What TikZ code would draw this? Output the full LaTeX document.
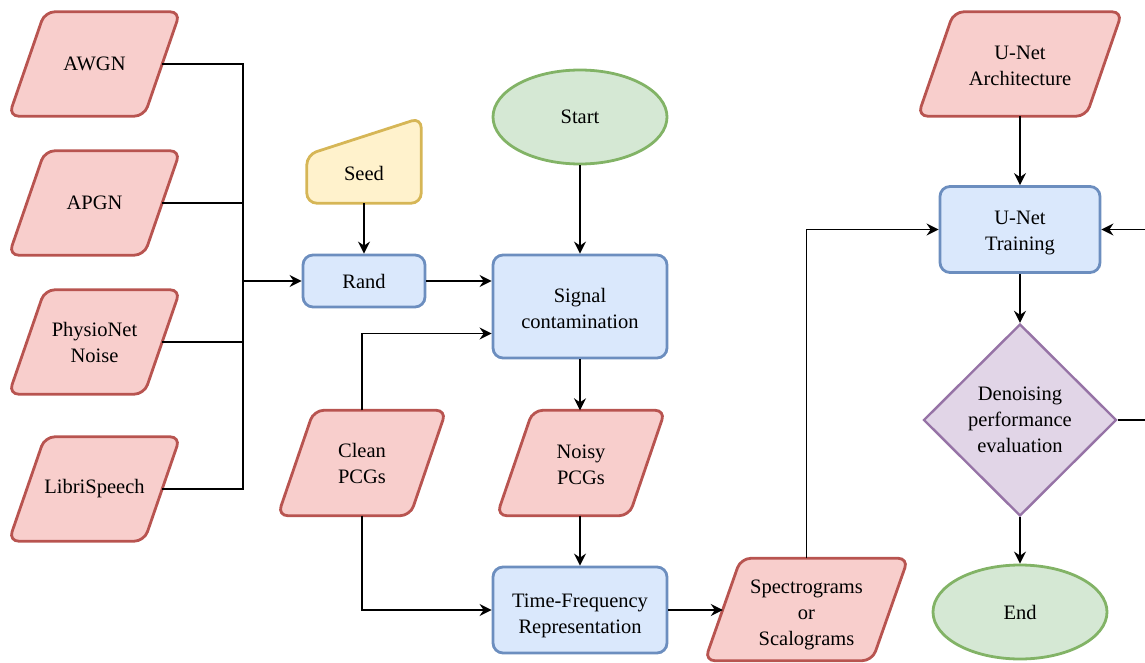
\documentclass[tikz,border=0pt]{standalone}
\usepackage{fontspec}
\setmainfont{Liberation Serif}
\newfontfamily\tnr{Liberation Serif}
\usetikzlibrary{shapes.geometric,arrows.meta,backgrounds}
\definecolor{redF}{HTML}{F8CECC}\definecolor{redS}{HTML}{B85450}
\definecolor{blueF}{HTML}{DAE8FC}\definecolor{blueS}{HTML}{6C8EBF}
\definecolor{greenF}{HTML}{D5E8D4}\definecolor{greenS}{HTML}{82B366}
\definecolor{yelF}{HTML}{FFF2CC}\definecolor{yelS}{HTML}{D6B656}
\definecolor{purF}{HTML}{E1D5E7}\definecolor{purS}{HTML}{9673A6}
\newcommand\liftup[1]{\rule{0pt}{#1}}
\begin{document}
\begin{tikzpicture}[x=1pt,y=-1pt,
  base/.style={font=\tnr\fontsize{20.5}{26}\selectfont, align=center, inner sep=0pt, text=black},
  para/.style={base, minimum height=104pt},
  parashape/.style={draw=redS, fill=redF, line width=2.8pt, rounded corners=10pt},
  proc/.style={base, draw=blueS, fill=blueF, line width=2.8pt, rounded corners=10pt},
  term/.style={base, ellipse, draw=greenS, fill=greenF, line width=2.8pt, minimum width=174pt, minimum height=94pt},
  decision/.style={base, diamond, draw=purS, fill=purF, line width=2.4pt, minimum width=193pt, minimum height=192pt},
  line/.style={line width=1.7pt, draw=black},
  arrow/.style={line, -{Stealth[length=12pt,width=12pt,inset=4pt]}},
]
\useasboundingbox (0,0) rectangle (1145,663);

% input parallelograms (text nodes; outlines drawn on background)
\node[para, minimum width=135pt] (awgn)   at (94.5,64)  {AWGN};
\node[para, minimum width=135pt] (apgn)   at (94.5,203) {APGN};
\node[para, minimum width=135pt] (physio) at (94.5,342) {\liftup{16pt}PhysioNet\\Noise};
\node[para, minimum width=135pt] (libri)  at (94.5,489) {LibriSpeech};
\node[para, minimum width=132pt, minimum height=105pt] (clean) at (362,463) {\liftup{16pt}Clean\\PCGs};
\node[para, minimum width=132pt, minimum height=105pt] (noisy) at (581,463) {\liftup{18pt}Noisy\\PCGs};
\node[para, minimum width=167pt, minimum height=102pt] (spec)  at (806.5,609.5) {\liftup{24pt}Spectrograms\\or\\Scalograms};
\node[para, minimum width=168pt] (arch)  at (1020,64) {\liftup{18pt}U-Net\\Architecture};

% seed (manual input)
\node[base, minimum width=114pt, minimum height=60pt] (seed) at (364,173) {Seed};

% processes
\node[proc, minimum width=122pt, minimum height=52pt] (rand) at (364,281) {Rand};
\node[proc, minimum width=174pt, minimum height=103pt] (signal) at (580,306.5) {\liftup{18pt}Signal\\contamination};
\node[proc, minimum width=174pt, minimum height=86pt] (tfr) at (580,610) {\liftup{25pt}Time-Frequency\\Representation};
\node[proc, minimum width=160pt, minimum height=86pt] (train) at (1020,229.5) {\liftup{21pt}U-Net\\Training};

% terminals
\node[term] (start) at (580,117) {Start};
\node[term] (end) at (1020,612) {End};

% decision
\node[decision] (eval) at (1020,420) {Denoising\\performance\\evaluation};

\begin{scope}[on background layer]
  \foreach \n in {awgn,apgn,physio,libri,clean,noisy,spec,arch}
    \draw[parashape] ([xshift=-18pt]\n.south west) -- ([xshift=-18pt]\n.south east)
      -- ([xshift=18pt]\n.north east) -- ([xshift=18pt]\n.north west) -- cycle;
  \draw[draw=yelS, fill=yelF, line width=2.8pt, rounded corners=10pt]
    (seed.south west) -- (seed.south east) -- ([yshift=25pt]seed.north east)
    -- ([yshift=-12pt]seed.north west) -- cycle;
\end{scope}

% connectors
\coordinate (bus) at (243,281);
\draw[line] (awgn.east) -| (bus);
\draw[line] (apgn.east) -| (bus);
\draw[line] (physio.east) -| (bus);
\draw[line] (libri.east) -| (bus);
\draw[arrow] (bus) -- (rand.west);
\draw[arrow] (seed.south) -- (rand.north);
\draw[arrow] (rand.east) -- (rand.east -| signal.west);
\draw[arrow] (start.south) -- (signal.north);
\draw[arrow] (signal.south) -- (noisy.north -| signal.south);
\draw[arrow] (noisy.south -| tfr.north) -- (tfr.north);
\draw[arrow] (clean.north) |- ([yshift=-27pt]signal.west);
\draw[arrow] (clean.south) |- (tfr.west);
\draw[arrow] (tfr.east) -- (tfr.east -| spec.west);
\draw[arrow] (spec.north) |- (train.west);
\draw[arrow] (arch.south) -- (train.north);
\draw[arrow] (train.south) -- (eval.north);
\draw[arrow] (eval.south) -- (end.north);
\coordinate (loop) at (1175,420);
\draw[arrow] (eval.east) -- (loop) |- (train.east);
\end{tikzpicture}
\end{document}
